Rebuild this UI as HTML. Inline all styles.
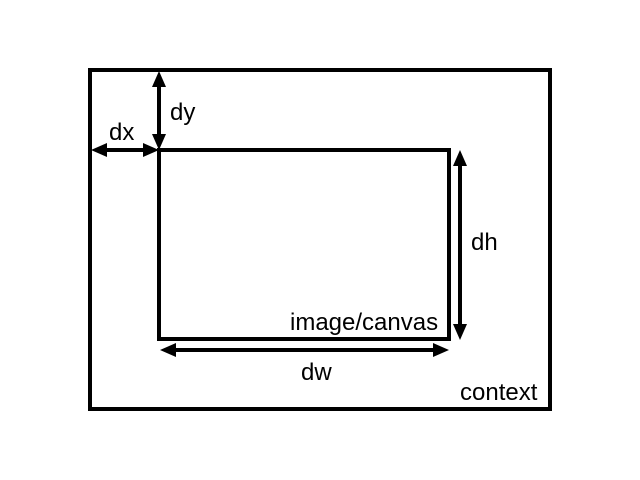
<!DOCTYPE html>
<html><head><style>html,body{margin:0;padding:0;background:#fff;}svg{display:block}</style></head>
<body>
<svg width="640" height="480" viewBox="0 0 640 480" xmlns="http://www.w3.org/2000/svg" font-family="Liberation Sans, sans-serif" font-size="24">
<rect x="90" y="70" width="460" height="339" fill="none" stroke="#000" stroke-width="4"/>
<rect x="159" y="150" width="290" height="189" fill="none" stroke="#000" stroke-width="4"/>
<g stroke="#000" stroke-width="4">
<line x1="104" y1="150" x2="146" y2="150"/>
<line x1="159" y1="84" x2="159" y2="136"/>
<line x1="460" y1="164" x2="460" y2="326"/>
<line x1="173" y1="350" x2="436" y2="350"/>
</g>
<g fill="#000">
<polygon points="91,150 107,143 107,157"/>
<polygon points="159,150 143,143 143,157"/>
<polygon points="159,71 152,87 166,87"/>
<polygon points="159,150 152,134 166,134"/>
<polygon points="460,150 453,166 467,166"/>
<polygon points="460,340 453,324 467,324"/>
<polygon points="160,350 176,343 176,357"/>
<polygon points="449,350 433,343 433,357"/>
</g>
<text x="109" y="140">dx</text>
<text x="170" y="120">dy</text>
<text x="471" y="250">dh</text>
<text x="301" y="380">dw</text>
<text x="290" y="330">image/canvas</text>
<text x="460" y="400">context</text>
</svg>
</body></html>
